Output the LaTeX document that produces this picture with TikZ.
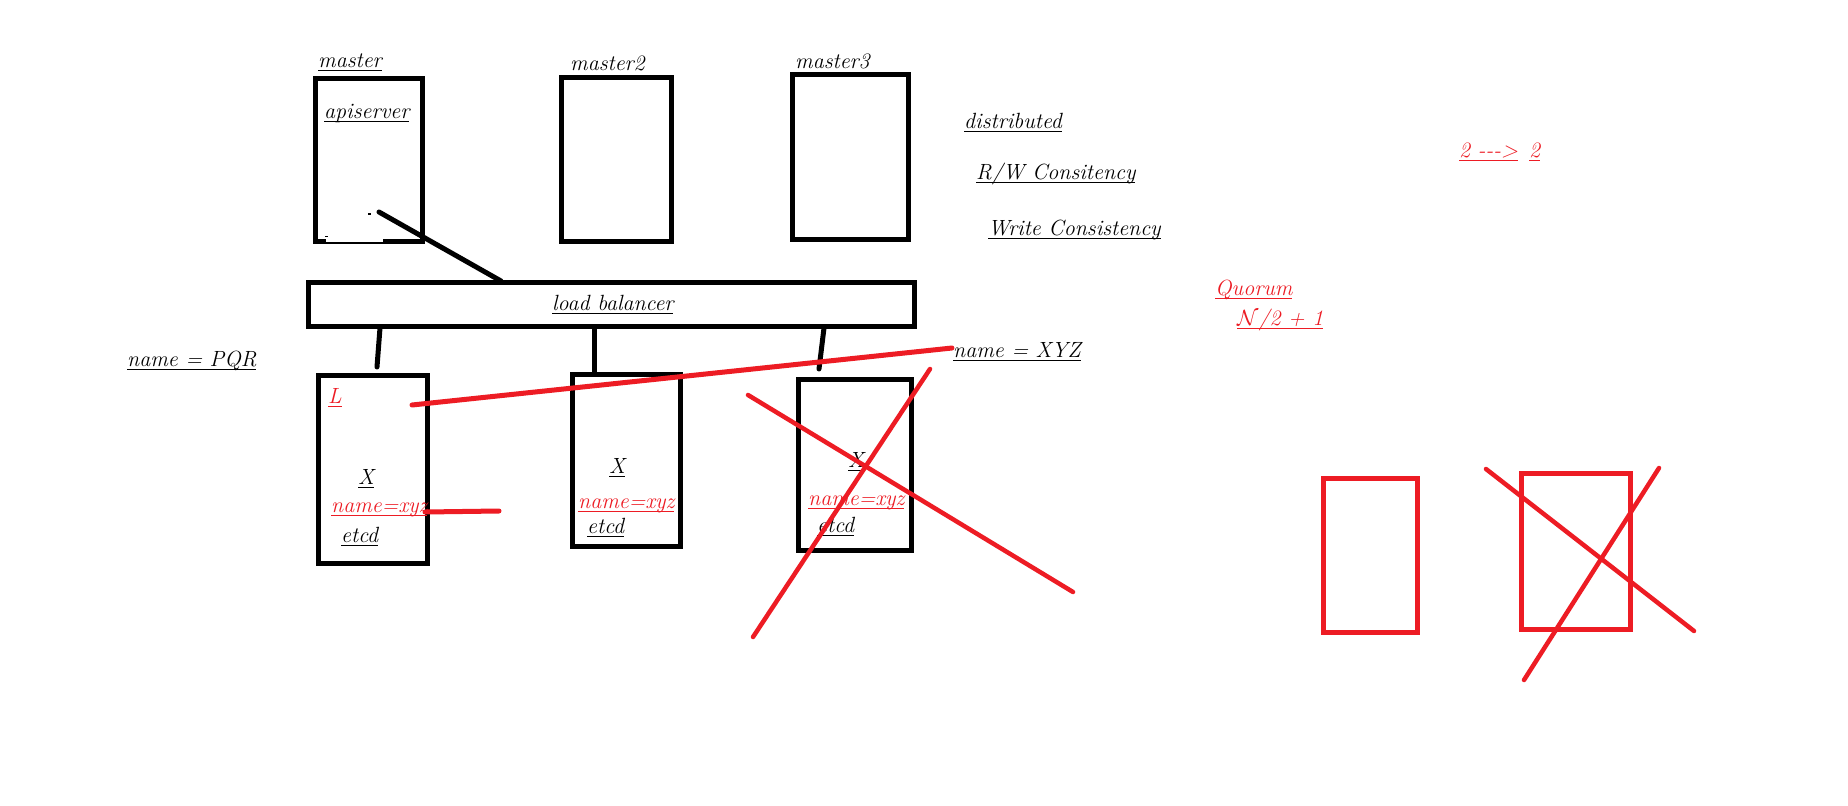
\documentclass[tikz,border=0pt]{standalone}
\usepackage{fix-cm}
\definecolor{pred}{HTML}{ED1C24}
\newcommand\myul[1]{\setbox0\hbox{#1}\rlap{\rule[-3.5pt]{\wd0}{1pt}}\box0}
\tikzset{
  bbox/.style={draw=black, line width=5pt, inner sep=0pt},
  rbox/.style={draw=pred, line width=5pt, inner sep=0pt},
  txt/.style={anchor=base west, inner sep=0pt, font=\fontsize{22}{26}\selectfont\itshape},
  rtxt/.style={txt, text=pred},
  conn/.style={draw=black, line width=5pt, line cap=round},
  rline/.style={draw=pred, line width=5pt, line cap=round},
  rcross/.style={draw=pred, line width=4.5pt, line cap=round}
}
\begin{document}
\begin{tikzpicture}[x=1pt,y=-1pt]
\fill[white] (0,0) rectangle (1848,806);
\useasboundingbox (0,0) rectangle (1848,806);

% master boxes
\node[bbox, minimum width=107, minimum height=163] (m1) at (368.5,159.5) {};
\node[bbox, minimum width=110, minimum height=164] (m2) at (616,159) {};
\node[bbox, minimum width=116, minimum height=165] (m3) at (850,156.5) {};
% small erased part at the bottom of master
\fill[white] (326,236.5) rectangle (383,241.5);
\fill[black] (325,235.5) rectangle (328,237);
\fill[black] (368,213) rectangle (371,214.5);

% load balancer
\node[bbox, minimum width=606, minimum height=44] (lb) at (611,304) {};

% etcd boxes
\node[bbox, minimum width=109, minimum height=188] (e1) at (372.5,469) {};
\node[bbox, minimum width=108, minimum height=172] (e2) at (626,460) {};
\node[bbox, minimum width=113, minimum height=171] (e3) at (854.5,464.5) {};

% red boxes
\node[rbox, minimum width=94, minimum height=154] (r1) at (1370,555) {};
\node[rbox, minimum width=109, minimum height=156] (r2) at (1576,551.5) {};

% texts
\node[txt] (tmaster) at (318,67) {\myul{master}};
\node[txt] (tapi) at (324,118) {\myul{apiserver}};
\node[txt] (tmaster2) at (570,70) {master2};
\node[txt] (tmaster3) at (795,68) {master3};
\node[txt] (tlb) at (552,310) {\myul{load balancer}};
\node[txt] (tpqr) at (127,366) {\myul{name = PQR}};
\node[rtxt] (tL) at (328,403) {\myul{L}};
\node[txt] (tx1) at (358,484) {\myul{X}};
\node[txt] (tx2) at (609,473) {\myul{X}};
\node[txt] (tx3) at (848,467) {\myul{X}};
\node[rtxt] (tn1) at (331,512) {\myul{name=xyz}};
\node[rtxt] (tn2) at (578,508) {\myul{name=xyz}};
\node[rtxt] (tn3) at (808,505) {\myul{name=xyz}};
\node[txt] (te1) at (341,542) {\myul{etcd}};
\node[txt] (te2) at (587,533) {\myul{etcd}};
\node[txt] (te3) at (817,532) {\myul{etcd}};
\node[txt] (txyz) at (953,357) {\myul{name = XYZ}};
\node[txt] (tdist) at (964,128) {\myul{distributed}};
\node[txt] (trw) at (976,179) {\myul{R/W Consitency}};
\node[txt] (twc) at (988,235) {\myul{Write Consistency}};
\node[rtxt] (t2a) at (1459,157) {\myul{2 -{}-{}->}};
\node[rtxt] (t2b) at (1529,157) {\myul{2}};
\node[rtxt] (tq) at (1215,295) {\myul{Quorum}};
\node[rtxt] (tn) at (1237,325) {\myul{$\mathcal{N}$/2 + 1}};

% black connectors
\coordinate (apiend) at (379,212);
\coordinate (lbtop) at (501,281);
\coordinate (lb1) at (380,328);
\coordinate (e1end) at (377,367);
\coordinate (lb2) at (594,328);
\coordinate (e2end) at (594,372);
\coordinate (lb3) at (824,328);
\coordinate (e3end) at (819,369);
\draw[conn] (apiend) -- (lbtop);
\draw[conn] (lb1) -- (e1end);
\draw[conn] (lb2) -- (e2end);
\draw[conn] (lb3) -- (e3end);

% red strokes
\coordinate (la) at (412,405);
\coordinate (lb') at (952,348);
\draw[rline] (la) -- (lb');
\coordinate (sa) at (425,512);
\coordinate (sb) at (499,511);
\draw[rline] (sa) -- (sb);
\coordinate (c1a) at (748,395);
\coordinate (c1b) at (1073,592);
\coordinate (c2a) at (930,369);
\coordinate (c2b) at (753,637);
\draw[rcross] (c1a) -- (c1b);
\draw[rcross] (c2a) -- (c2b);
\coordinate (d1a) at (1486,469);
\coordinate (d1b) at (1694,631);
\coordinate (d2a) at (1659,468);
\coordinate (d2b) at (1524,680);
\draw[rcross] (d1a) -- (d1b);
\draw[rcross] (d2a) -- (d2b);
\end{tikzpicture}
\end{document}
